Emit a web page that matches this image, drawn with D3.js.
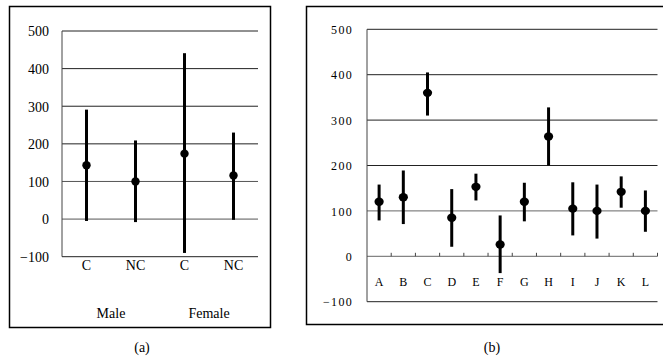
<!DOCTYPE html>
<html><head><meta charset="utf-8">
<script src="https://cdn.jsdelivr.net/npm/d3@7"></script>
<style>body{margin:0;background:#fff}svg{display:block}svg text{font-family:"Liberation Serif","Times New Roman",serif !important;fill:#000}</style>
</head><body><svg id="c" width="663" height="358"></svg>
<script>
// Panel (a)
const catsA = ["C","NC","C","NC"];
const groupsA = ["Male","Female"];
const meanA = [143, 100, 174, 116];
const hiA = [291, 209, 441, 230];
const loA = [-5, -8, -90, -2];
// Panel (b)
const catsB = ["A","B","C","D","E","F","G","H","I","J","K","L"];
const meanB = [120, 130, 360, 85, 153, 26, 120, 264, 105, 100, 142, 100];
const hiB = [158, 189, 405, 148, 182, 90, 162, 328, 163, 158, 176, 145];
const loB = [79, 71, 310, 21, 123, -37, 77, 200, 46, 39, 107, 54];
const yTicks = [-100, 0, 100, 200, 300, 400, 500];

const svg = d3.select("#c");

// ---------- Panel (a) ----------
svg.append("rect").attr("x",9.5).attr("y",6.5).attr("width",261).attr("height",321)
  .attr("fill","none").attr("stroke","#000").attr("stroke-width",1.5);
const ya = d3.scaleLinear().domain([-100,500]).range([256.7,31]);
const xa = d3.scaleBand().domain(d3.range(catsA.length)).range([62,258]);
const ga = svg.append("g");
yTicks.filter(t=>t>-100).forEach(t=>{
  ga.append("line").attr("x1",62).attr("x2",258).attr("y1",ya(t)).attr("y2",ya(t))
    .attr("stroke", t<=100 ? "#555" : "#222").attr("stroke-width",1);
});
ga.append("line").attr("x1",62).attr("x2",62).attr("y1",ya(500)).attr("y2",ya(-100)).attr("stroke","#444");
ga.append("line").attr("x1",62).attr("x2",258).attr("y1",ya(-100)).attr("y2",ya(-100)).attr("stroke","#222");
const axA = ga.append("g").attr("transform","translate(49,0)")
  .call(d3.axisLeft(ya).tickValues(yTicks).tickSize(0).tickPadding(0))
  .attr("font-family","Liberation Serif").attr("font-size",14);
axA.select(".domain").remove();
axA.selectAll("text").attr("dy","0.35em");
catsA.forEach((c,i)=>{
  const cx = xa(i)+xa.bandwidth()/2;
  ga.append("line").attr("x1",cx).attr("x2",cx).attr("y1",ya(hiA[i])).attr("y2",ya(loA[i]))
    .attr("stroke","#000").attr("stroke-width",3);
  ga.append("circle").attr("cx",cx).attr("cy",ya(meanA[i])).attr("r",4.2).attr("fill","#000");
  ga.append("text").attr("x",cx).attr("y",270).attr("text-anchor","middle").style("font-size","14px").text(c);
});
groupsA.forEach((g,j)=>{
  const cx = (xa(2*j)+xa(2*j+1)+xa.bandwidth())/2;
  ga.append("text").attr("x",cx).attr("y",318).attr("text-anchor","middle").style("font-size","14px").text(g);
});
svg.append("text").attr("x",142).attr("y",352).attr("text-anchor","middle").style("font-size","14px").text("(a)");

// ---------- Panel (b) ----------
svg.append("rect").attr("x",306.5).attr("y",6.5).attr("width",370).attr("height",318)
  .attr("fill","none").attr("stroke","#000").attr("stroke-width",1.5);
const yb = d3.scaleLinear().domain([-100,500]).range([301.7,29.3]);
const xb = d3.scaleBand().domain(d3.range(catsB.length)).range([367,657.5]);
const gb = svg.append("g");
yTicks.forEach(t=>{
  gb.append("line").attr("x1",367).attr("x2",657.5).attr("y1",yb(t)).attr("y2",yb(t))
    .attr("stroke", (t===0||t===100) ? "#666" : "#222").attr("stroke-width",1);
});
gb.append("line").attr("x1",367).attr("x2",367).attr("y1",yb(500)).attr("y2",yb(-100)).attr("stroke","#444");
catsB.forEach((c,i)=>{
  const bx = xb(i)+xb.bandwidth();
  gb.append("line").attr("x1",bx).attr("x2",bx).attr("y1",yb(0)).attr("y2",yb(0)-3.5).attr("stroke","#444");
});
const axB = gb.append("g").attr("transform","translate(353,0)")
  .call(d3.axisLeft(yb).tickValues(yTicks).tickSize(0).tickPadding(0))
  .attr("font-family","Liberation Serif").attr("font-size",12);
axB.select(".domain").remove();
axB.selectAll("text").attr("dy","0.35em").style("letter-spacing","1.3px");
catsB.forEach((c,i)=>{
  const cx = xb(i)+xb.bandwidth()/2;
  gb.append("line").attr("x1",cx).attr("x2",cx).attr("y1",yb(hiB[i])).attr("y2",yb(loB[i]))
    .attr("stroke","#000").attr("stroke-width",3);
  gb.append("ellipse").attr("cx",cx).attr("cy",yb(meanB[i])).attr("rx",4.6).attr("ry",4.2).attr("fill","#000");
  gb.append("text").attr("x",cx).attr("y",286).attr("text-anchor","middle").style("font-size","12px").text(c);
});
svg.append("text").attr("x",492).attr("y",352).attr("text-anchor","middle").style("font-size","14px").text("(b)");
</script></body></html>
